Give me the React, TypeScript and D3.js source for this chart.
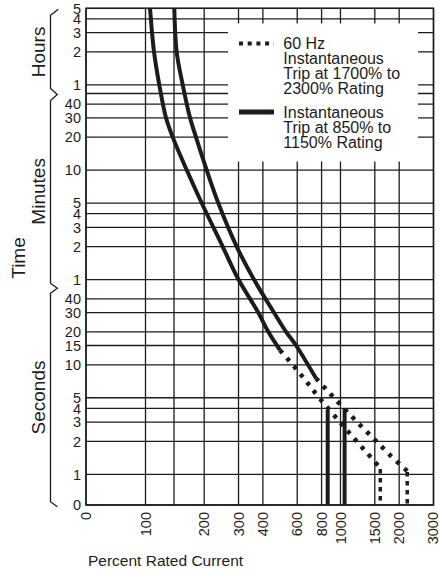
import React from "react";
import * as d3 from "d3";

// ---------- data ----------
const xTickValues = [0, 100, 140, 200, 300, 400, 600, 800, 1000, 1500, 2000, 3000];
const xTickLabels = ["0", "100", "", "200", "300", "400", "600", "800", "1000", "1500", "2000", "3000"];

const hourTicks = [5, 4, 3, 2, 1];
const hourLabels = ["5", "4", "3", "2", "1"];
const minuteTicks = [50, 40, 30, 20, 10, 5, 4, 3, 2, 1];
const minuteLabels = ["", "40", "30", "20", "10", "5", "4", "3", "2", "1"];
const secondTicks = [40, 30, 20, 15, 10, 5, 4, 3, 2, 1, 0];
const secondLabels = ["40", "30", "20", "15", "10", "5", "4", "3", "2", "1", "0"];

// [percent rated current, seconds]
const leftSolid: [number, number][] = [
  [105.5, 18000], [110.6, 7200], [117.7, 3600], [127.4, 1800], [137.9, 1200], [162.7, 600],
  [194.2, 300], [248.8, 120], [300, 60], [378.8, 30], [426.4, 20], [489.5, 13.6],
];
const leftDotted: [number, number][] = [
  [489.5, 13.6], [573, 9.85], [666, 7.1], [785, 4.9], [994, 3.0], [1163, 2.17], [1363, 1.58], [1600, 1.14],
];
const rightSolid: [number, number][] = [
  [140.5, 18000], [144.5, 7200], [155.2, 3600], [169.2, 1800], [181.5, 1200], [206, 600],
  [236.2, 300], [293.6, 120], [360, 60], [456, 30], [526, 20], [592, 15], [749, 7.53],
];
const rightDotted: [number, number][] = [
  [749, 7.53], [883, 5.47], [1055, 3.91], [1259, 2.82], [1503, 2.06], [1794, 1.5], [2200, 1.07],
];
// vertical instantaneous trip lines: [percent, top seconds]
const solidTrips: [number, number][] = [[860, 3.9], [1050, 4.0]];
const dottedTrips: [number, number][] = [[1600, 1.14], [2200, 1.07]];

const legendDottedText = ["60 Hz", "Instantaneous", "Trip at 1700% to", "2300% Rating"];
const legendSolidText = ["Instantaneous", "Trip at 850% to", "1150% Rating"];

// ---------- layout ----------
const W = 440, H = 573;
const L = 86, R = 433.5, T = 8.3, B = 505;
const X100 = 145.5; // pixel of 100%
const Y1 = 474.3;   // pixel of 1 second
const FONT = "'Liberation Sans', Arial, Helvetica, sans-serif";
const INK = "#1c1c1c";

const xLog = d3.scaleLog().domain([100, 3000]).range([X100, R]);
const xLin = d3.scaleLinear().domain([0, 100]).range([L, X100]);
const x = (v: number) => (v < 100 ? xLin(v) : xLog(v));
const yLog = d3.scaleLog().domain([1, 18000]).range([Y1, T]);
const yLin = d3.scaleLinear().domain([0, 1]).range([B, Y1]);
const y = (t: number) => (t < 1 ? yLin(t) : yLog(t));

const line = d3
  .line<[number, number]>()
  .x((d) => x(d[0]))
  .y((d) => y(d[1]))
  .curve(d3.curveCatmullRom.alpha(0.5));

type YT = { sec: number; label: string };
const yTicks: YT[] = [
  ...hourTicks.map((h, i) => ({ sec: h * 3600, label: hourLabels[i] })),
  ...minuteTicks.map((m, i) => ({ sec: m * 60, label: minuteLabels[i] })),
  ...secondTicks.map((s, i) => ({ sec: s, label: secondLabels[i] })),
];

// legend box
const LB = { x0: 228, x1: 418, y0: 23.5, y1: 161.5 };

export default function App() {
  const gridW = 1.3;
  const bracketX = 50.5, tipX = 57.3;
  const jHM = y(3000) + 1;
  const jMS = y(50);
  const bTop = y(18000) + 1;
  const bBot = y(0) + 1.7;
  const bracketPath =
    `M${tipX + 1},${bTop} L${bracketX},${bTop + 6} L${bracketX},${jHM - 6} L${tipX},${jHM} ` +
    `L${bracketX},${jHM + 6} L${bracketX},${jMS - 5} L${tipX},${jMS} ` +
    `L${bracketX},${jMS + 5} L${bracketX},${bBot - 5} L${tipX},${bBot}`;

  return (
    <svg width={W} height={H} style={{ position: "absolute", left: 0, top: 0, background: "#fff" }} fontFamily={FONT}>
      <rect x={0} y={0} width={W} height={H} fill="#fff" />
      {/* grid */}
      <g stroke={INK} strokeWidth={gridW}>
        {yTicks.map((t, i) => (
          <line key={"h" + i} x1={L} x2={R} y1={y(t.sec)} y2={y(t.sec)} />
        ))}
        {xTickValues.map((v, i) => (
          <line key={"v" + i} x1={x(v)} x2={x(v)} y1={T} y2={B} />
        ))}
      </g>
      {/* legend box */}
      <rect x={LB.x0} y={LB.y0} width={LB.x1 - LB.x0} height={LB.y1 - LB.y0} fill="#fff" />
      <line x1={239} x2={274} y1={43.5} y2={43.5} stroke={INK} strokeWidth={4} strokeDasharray="4 4.7" />
      <line x1={239} x2={274} y1={112} y2={112} stroke={INK} strokeWidth={5} />
      <g fontSize={16} fill={INK}>
        {legendDottedText.map((s, i) => (
          <text key={"ld" + i} x={283.3} y={48.5 + i * 15.2}>{s}</text>
        ))}
        {legendSolidText.map((s, i) => (
          <text key={"ls" + i} x={283.3} y={117.8 + i * 15}>{s}</text>
        ))}
      </g>
      {/* curves */}
      <g fill="none" stroke={INK}>
        <path d={line(leftSolid) || ""} strokeWidth={4} />
        <path d={line(rightSolid) || ""} strokeWidth={4} />
        <path d={line(leftDotted) || ""} strokeWidth={4.5} strokeDasharray="4 6.5" />
        <path d={line(rightDotted) || ""} strokeWidth={4.5} strokeDasharray="4 6.5" />
        {solidTrips.map((d, i) => (
          <line key={"st" + i} x1={x(d[0])} x2={x(d[0])} y1={y(d[1])} y2={y(0)} strokeWidth={4} />
        ))}
        {dottedTrips.map((d, i) => (
          <line key={"dt" + i} x1={x(d[0])} x2={x(d[0])} y1={y(d[1]) + 1} y2={y(0) - 1} strokeWidth={3.5} strokeDasharray="4.5 4.5" />
        ))}
      </g>
      {/* border */}
      <rect x={L} y={T} width={R - L} height={B - T} fill="none" stroke={INK} strokeWidth={1.5} />
      {/* y tick labels */}
      <g fontSize={14.5} fill={INK} textAnchor="end">
        {yTicks.map((t, i) =>
          t.label ? (
            <text key={"yl" + i} x={81} y={y(t.sec)} dy="0.36em">{t.label}</text>
          ) : null
        )}
      </g>
      {/* x tick labels */}
      <g fontSize={14.5} fill={INK} textAnchor="end">
        {xTickValues.map((v, i) =>
          xTickLabels[i] ? (
            <text key={"xl" + i} transform={`translate(${Math.min(x(v), 432.5)},512) rotate(-90)`} dy="0.36em">{xTickLabels[i]}</text>
          ) : null
        )}
      </g>
      {/* brackets and axis titles */}
      <path d={bracketPath} fill="none" stroke={INK} strokeWidth={1.3} />
      <g fontSize={19} fill={INK} textAnchor="middle">
        <text transform={`translate(38,${(bTop + jHM) / 2}) rotate(-90)`} dy="0.36em">Hours</text>
        <text transform={`translate(38,${(jHM + jMS) / 2}) rotate(-90)`} dy="0.36em">Minutes</text>
        <text transform={`translate(38,${(jMS + bBot) / 2}) rotate(-90)`} dy="0.36em">Seconds</text>
        <text transform={`translate(17.8,258) rotate(-90)`} dy="0.36em">Time</text>
      </g>
      <text x={88} y={566} fontSize={15.5} fill={INK}>Percent Rated Current</text>
    </svg>
  );
}
